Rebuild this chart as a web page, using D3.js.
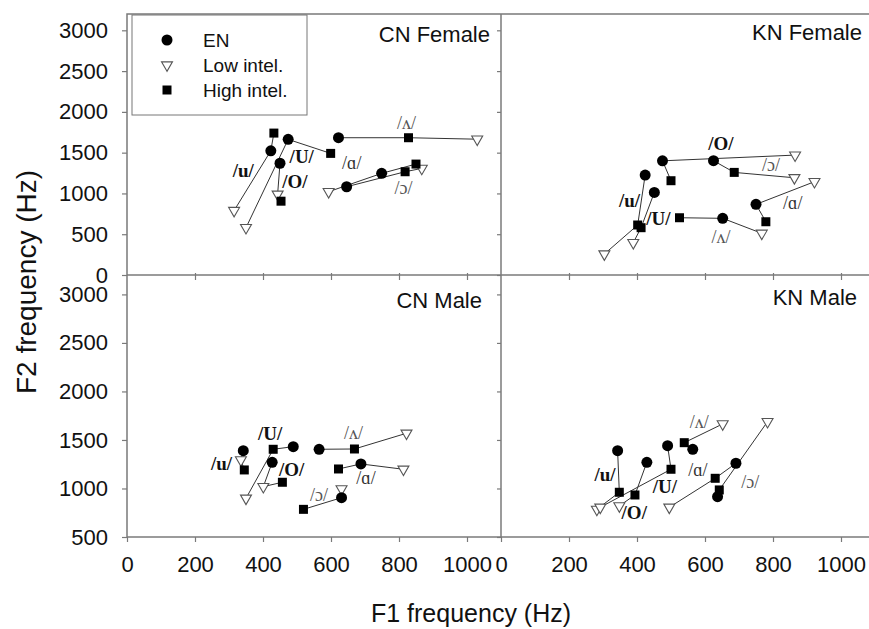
<!DOCTYPE html>
<html>
<head>
<meta charset="utf-8">
<title>F1 / F2 vowel plot</title>
<style>
    body { margin: 0; background: #fff; }
    text { font-family: "Liberation Sans", Arial, sans-serif; fill: #111; }
    .frame { stroke: #7a7a7a; stroke-width: 1.5; fill: none; }
    .tick line { stroke: #7a7a7a; stroke-width: 1.2; }
    .domain { display: none; }
    .vlab { font-family: "Liberation Serif", "DejaVu Serif", serif; }
</style>
</head>
<body>
<div id="chart"></div>
<script src="https://cdn.jsdelivr.net/npm/d3@7/dist/d3.min.js"></script>
<script>
// ticks
const f1Ticks = [0, 200, 400, 600, 800, 1000]
const f2TicksTop = [0, 500, 1000, 1500, 2000, 2500, 3000]
const f2TicksBottom = [500, 1000, 1500, 2000, 2500, 3000]
const groups = ["EN", "Low intel.", "High intel."]

// vowel means, [F1, F2] in Hz, order = how the line joins the three points
const cnFemale = [
    { v: "/u/", low: [315, 790], en: [423, 1523], high: [432, 1740], order: ["low", "en", "high"] },
    { v: "/U/", low: [350, 580], en: [474, 1663], high: [599, 1491], order: ["low", "en", "high"] },
    { v: "/O/", low: [443, 990], en: [450, 1370], high: [453, 905], order: ["en", "low", "high"] },
    { v: "/ʌ/", low: [1030, 1665], en: [622, 1683], high: [828, 1683], order: ["en", "high", "low"] },
    { v: "/ɑ/", low: [593, 1021], en: [749, 1246], high: [850, 1360], order: ["low", "en", "high"] },
    { v: "/ɔ/", low: [867, 1307], en: [646, 1082], high: [818, 1266], order: ["en", "high", "low"] }
]
const knFemale = [
    { v: "/u/", low: [304, 257], en: [424, 1225], high: [402, 613], order: ["low", "high", "en"] },
    { v: "/U/", low: [389, 396], en: [451, 1013], high: [412, 580], order: ["en", "high", "low"] },
    { v: "/O/", low: [865, 1470], en: [475, 1400], high: [500, 1156], order: ["low", "en", "high"] },
    { v: "/ɔ/", low: [863, 1192], en: [625, 1401], high: [686, 1258], order: ["en", "high", "low"] },
    { v: "/ɑ/", low: [922, 1144], en: [750, 866], high: [779, 653], order: ["low", "en", "high"] },
    { v: "/ʌ/", low: [767, 511], en: [652, 695], high: [525, 702], order: ["high", "en", "low"] }
]
const cnMale = [
    { v: "/u/", low: [335, 1294], en: [342, 1390], high: [345, 1191], order: ["en", "low", "high"] },
    { v: "/U/", low: [350, 899], en: [489, 1431], high: [430, 1404], order: ["low", "high", "en"] },
    { v: "/O/", low: [401, 1019], en: [427, 1270], high: [457, 1064], order: ["en", "low", "high"] },
    { v: "/ʌ/", low: [822, 1569], en: [565, 1404], high: [669, 1407], order: ["en", "high", "low"] },
    { v: "/ɑ/", low: [813, 1198], en: [688, 1253], high: [622, 1201], order: ["high", "en", "low"] },
    { v: "/ɔ/", low: [631, 995], en: [631, 905], high: [519, 785], order: ["high", "en", "low"] }
]
const knMale = [
    { v: "/u/", low: [282, 785], en: [343, 1390], high: [348, 961], order: ["en", "high", "low"] },
    { v: "/U/", low: [292, 806], en: [490, 1441], high: [500, 1198], order: ["en", "high", "low"] },
    { v: "/O/", low: [348, 820], en: [429, 1270], high: [394, 933], order: ["en", "high", "low"] },
    { v: "/ʌ/", low: [652, 1665], en: [564, 1404], high: [539, 1472], order: ["en", "high", "low"] },
    { v: "/ɑ/", low: [495, 806], en: [691, 1260], high: [630, 1105], order: ["low", "high", "en"] },
    { v: "/ɔ/", low: [784, 1689], en: [637, 915], high: [642, 985], order: ["en", "high", "low"] }
]

// where each vowel label sits, [F1, F2] in Hz
const cnFemaleLabels = [["/u/", 342, 1287], ["/U/", 514, 1450], ["/O/", 494, 1143], ["/ʌ/", 822, 1859], ["/ɑ/", 661, 1369], ["/ɔ/", 813, 1062]]
const knFemaleLabels = [["/u/", 378, 919], ["/U/", 463, 695], ["/O/", 647, 1614], ["/ɔ/", 794, 1348], ["/ɑ/", 858, 879], ["/ʌ/", 647, 462]]
const cnMaleLabels = [["/u/", 278, 1260], ["/U/", 421, 1569], ["/O/", 484, 1198], ["/ʌ/", 666, 1575], ["/ɑ/", 703, 1105], ["/ɔ/", 565, 933]]
const knMaleLabels = [["/u/", 306, 1149], ["/U/", 482, 1019], ["/O/", 392, 755], ["/ʌ/", 583, 1689], ["/ɑ/", 579, 1191], ["/ɔ/", 733, 1070]]

let width = 869, height = 629
let X0 = 127, XM = 501, XR = 875
let YT = 14, YM = 275, YB = 537

let svg = d3.select("#chart").append("svg")
    .attr("width", width)
    .attr("height", height)

let xLeft = d3.scaleLinear().domain([0, 1100]).range([X0, XM])
let xRight = d3.scaleLinear().domain([0, 1100]).range([XM, XR])
let yTop = d3.scaleLinear().domain([0, 3200]).range([YM, YT])
let yBottom = d3.scaleLinear().domain([500, 3200]).range([YB, YM])
let fmt = d3.format("d")

let panels = [
    { title: "CN Female", data: cnFemale, labels: cnFemaleLabels, x: xLeft, y: yTop, tx: 490, ty: 42 },
    { title: "KN Female", data: knFemale, labels: knFemaleLabels, x: xRight, y: yTop, tx: 862, ty: 40 },
    { title: "CN Male", data: cnMale, labels: cnMaleLabels, x: xLeft, y: yBottom, tx: 482, ty: 308 },
    { title: "KN Male", data: knMale, labels: knMaleLabels, x: xRight, y: yBottom, tx: 857, ty: 305 }
]

// axes
function styleTicks(g, size) {
    g.selectAll("text").attr("font-size", size).style("fill", "#111")
}
svg.append("g").attr("transform", "translate(" + X0 + ",0)")
    .call(d3.axisLeft(yTop).tickValues(f2TicksTop).tickFormat(fmt).tickSize(5).tickPadding(14))
    .call(styleTicks, 22)
svg.append("g").attr("transform", "translate(" + X0 + ",0)")
    .call(d3.axisLeft(yBottom).tickValues(f2TicksBottom).tickFormat(fmt).tickSize(5).tickPadding(14))
    .call(styleTicks, 22)
svg.append("g").attr("transform", "translate(" + XM + ",0)")
    .call(d3.axisLeft(yTop).tickValues(f2TicksTop).tickSize(4).tickFormat(""))
svg.append("g").attr("transform", "translate(" + XM + ",0)")
    .call(d3.axisLeft(yBottom).tickValues(f2TicksBottom).tickSize(4).tickFormat(""))

;[xLeft, xRight].forEach(function (xs) {
    svg.append("g").attr("transform", "translate(0," + YB + ")")
        .call(d3.axisBottom(xs).tickValues(f1Ticks).tickFormat(fmt).tickSize(5).tickPadding(14))
        .call(styleTicks, 22)
    svg.append("g").attr("transform", "translate(0," + (YM - 2) + ")")
        .call(d3.axisBottom(xs).tickValues(f1Ticks.slice(1)).tickSize(7).tickFormat(""))
})

// frame and dividers
svg.append("path").attr("class", "frame")
    .attr("d", "M" + X0 + "," + YB + "V" + YT + "H" + width)
svg.append("path").attr("class", "frame")
    .attr("d", "M" + X0 + "," + YB + "H" + width)
svg.append("path").attr("class", "frame")
    .attr("d", "M" + X0 + "," + YM + "H" + width)
svg.append("path").attr("class", "frame")
    .attr("d", "M" + XM + "," + YT + "V" + YB)

// marks
let symCircle = d3.symbol(d3.symbolCircle, 95)
let symSquare = d3.symbol(d3.symbolSquare, 81)
let symTriangle = d3.symbol(d3.symbolTriangle, 52)

function drawMark(g, kind, px, py) {
    if (kind === "low") {
        g.append("path").attr("d", symTriangle())
            .attr("transform", "translate(" + px + "," + py + ") rotate(180)")
            .attr("fill", "white").attr("stroke", "#555").attr("stroke-width", 1.1)
    } else if (kind === "en") {
        g.append("path").attr("d", symCircle())
            .attr("transform", "translate(" + px + "," + py + ")")
            .attr("fill", "#000")
    } else {
        g.append("path").attr("d", symSquare())
            .attr("transform", "translate(" + px + "," + py + ")")
            .attr("fill", "#000")
    }
}

let boldVowels = ["/u/", "/U/", "/O/"]

panels.forEach(function (p) {
    let g = svg.append("g")
    let line = d3.line().x(d => p.x(d[0])).y(d => p.y(d[1]))

    p.data.forEach(function (d) {
        g.append("path")
            .attr("d", line(d.order.map(k => d[k])))
            .attr("fill", "none")
            .attr("stroke", "#333")
            .attr("stroke-width", 1)
    })
    ;["low", "en", "high"].forEach(function (kind) {
        p.data.forEach(function (d) {
            drawMark(g, kind, p.x(d[kind][0]), p.y(d[kind][1]))
        })
    })

    g.selectAll(".vlab")
        .data(p.labels)
        .enter()
        .append("text")
        .attr("class", "vlab")
        .attr("x", d => p.x(d[1]))
        .attr("y", d => p.y(d[2]))
        .attr("text-anchor", "middle")
        .attr("dominant-baseline", "central")
        .attr("font-size", d => boldVowels.includes(d[0]) ? 19 : 18)
        .attr("font-weight", d => boldVowels.includes(d[0]) ? "bold" : "normal")
        .style("fill", d => boldVowels.includes(d[0]) ? "#111" : (d[0] === "/ɑ/" ? "#333" : "#555"))
        .text(d => d[0])

    svg.append("text")
        .attr("x", p.tx)
        .attr("y", p.ty)
        .attr("text-anchor", "end")
        .attr("font-size", 22)
        .text(p.title)
})

// legend
let legend = svg.append("g")
legend.append("rect")
    .attr("x", 132).attr("y", 15)
    .attr("width", 175).attr("height", 100)
    .attr("fill", "white")
    .attr("stroke", "#777")
    .attr("stroke-width", 1)
let kinds = ["en", "low", "high"]
groups.forEach(function (name, i) {
    drawMark(legend, kinds[i], 167, 40 + i * 25)
    legend.append("text")
        .attr("x", 203)
        .attr("y", 40 + i * 25)
        .attr("dominant-baseline", "central")
        .attr("font-size", 19)
        .text(name)
})

// axis titles
svg.append("text")
    .attr("x", 471).attr("y", 622)
    .attr("text-anchor", "middle")
    .attr("font-size", 25)
    .text("F1 frequency (Hz)")
svg.append("text")
    .attr("transform", "translate(36,282) rotate(-90)")
    .attr("text-anchor", "middle")
    .attr("font-size", 28)
    .text("F2 frequency (Hz)")
</script>
</body>
</html>
